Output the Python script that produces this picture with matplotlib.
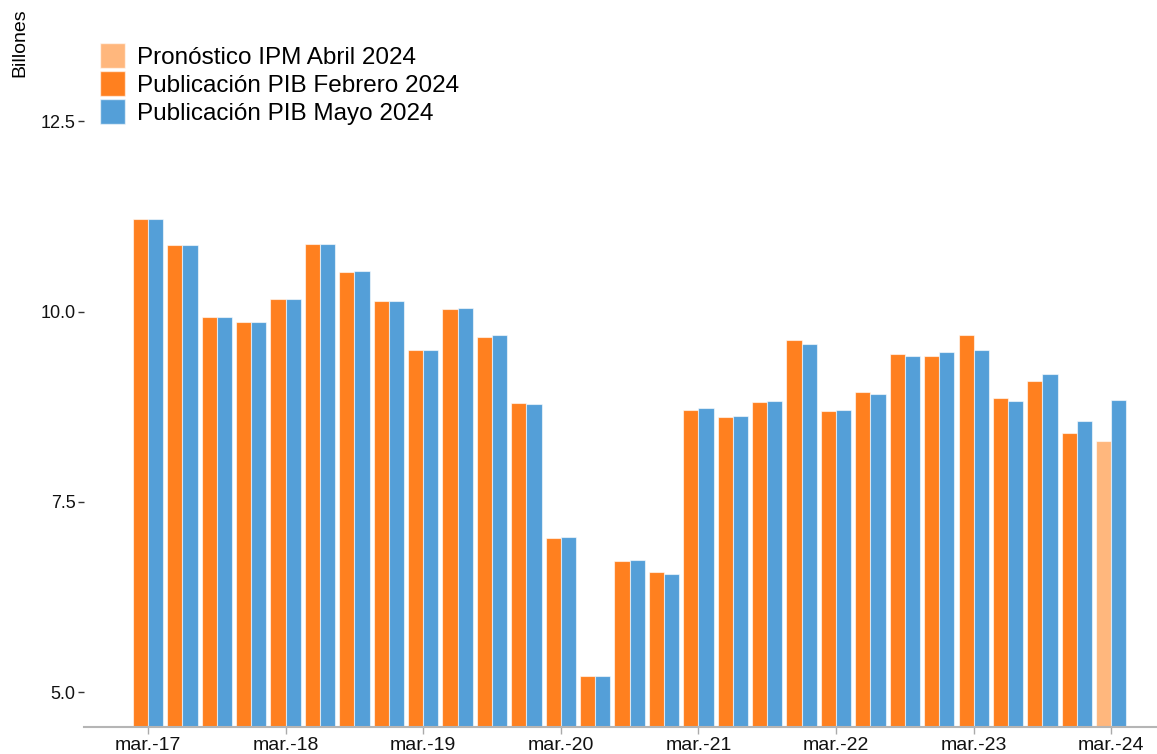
import matplotlib.pyplot as plt
import numpy as np
from matplotlib.patches import Patch

plt.rcParams['font.family'] = ['Liberation Sans', 'DejaVu Sans']

# trimestres mar.-17 ... mar.-24
trimestres = ['mar.-17', 'jun.-17', 'sep.-17', 'dic.-17',
              'mar.-18', 'jun.-18', 'sep.-18', 'dic.-18',
              'mar.-19', 'jun.-19', 'sep.-19', 'dic.-19',
              'mar.-20', 'jun.-20', 'sep.-20', 'dic.-20',
              'mar.-21', 'jun.-21', 'sep.-21', 'dic.-21',
              'mar.-22', 'jun.-22', 'sep.-22', 'dic.-22',
              'mar.-23', 'jun.-23', 'sep.-23', 'dic.-23',
              'mar.-24']

pib_febrero = [11.22, 10.87, 9.93, 9.86,
               10.17, 10.89, 10.52, 10.14,
               9.49, 10.03, 9.67, 8.80,
               7.03, 5.22, 6.72, 6.58,
               8.71, 8.62, 8.81, 9.62,
               8.70, 8.94, 9.44, 9.42,
               9.69, 8.87, 9.09, 8.41]

pib_mayo = [11.22, 10.87, 9.93, 9.86,
            10.17, 10.89, 10.53, 10.14,
            9.49, 10.04, 9.69, 8.79,
            7.04, 5.22, 6.74, 6.56,
            8.73, 8.63, 8.83, 9.58,
            8.71, 8.92, 9.41, 9.47,
            9.50, 8.83, 9.18, 8.56,
            8.84]

pronostico_ipm = 8.30  # mar.-24

c_feb = '#ff801f'
c_may = '#549fd8'
c_ipm = '#ffb77d'

fig = plt.figure(figsize=(11.57, 7.54), dpi=100)
ax = fig.add_axes([84/1157, 27/754, 1 - 84/1157, 1 - 27/754])

x = np.arange(len(trimestres))
w = 0.44
ymin = 4.545
edge = (1, 1, 1, 0.6)

feb = np.array(pib_febrero)
may = np.array(pib_mayo)
ax.bar(x[:-1] - w/2, feb - ymin, w, bottom=ymin, color=c_feb, edgecolor=edge, linewidth=0.8)
ax.bar(x[-1] - w/2, pronostico_ipm - ymin, w, bottom=ymin, color=c_ipm, edgecolor=edge, linewidth=0.8)
ax.bar(x + w/2, may - ymin, w, bottom=ymin, color=c_may, edgecolor=edge, linewidth=0.8)

ax.set_ylim(ymin, 14.09)
ax.set_xlim(-1.86, 29.33)

ax.set_yticks([5.0, 7.5, 10.0, 12.5])
ax.set_yticklabels(['5.0', '7.5', '10.0', '12.5'])
ticks = [i for i in range(len(trimestres)) if trimestres[i].startswith('mar')]
ax.set_xticks(ticks)
ax.set_xticklabels([trimestres[i] for i in ticks])

ax.tick_params(axis='y', length=4, width=1, color='#333333', labelsize=13, pad=2, labelcolor='#111111')
ax.tick_params(axis='x', length=5, width=1, color='#aaaaaa', labelsize=14, pad=2, labelcolor='#111111')

for s in ['top', 'right', 'left']:
    ax.spines[s].set_visible(False)
ax.spines['bottom'].set_color('#b5b5b5')
ax.spines['bottom'].set_linewidth(1.5)

fig.text(20/1157, 1 - 43/754, 'Billones', rotation=90, ha='center', va='center', fontsize=14)

handles = [Patch(facecolor=c_ipm, edgecolor=edge, label='Pronóstico IPM Abril 2024'),
           Patch(facecolor=c_feb, edgecolor=edge, label='Publicación PIB Febrero 2024'),
           Patch(facecolor=c_may, edgecolor=edge, label='Publicación PIB Mayo 2024')]
fig.legend(handles=handles, loc='upper left', bbox_to_anchor=(100/1157, 1 - 43/754),
           frameon=False, fontsize=17.5, handlelength=1.03, handleheight=1.2,
           handletextpad=0.5, labelspacing=0.1, borderpad=0.0, borderaxespad=0.0)

fig.savefig('out.png', dpi=100)
